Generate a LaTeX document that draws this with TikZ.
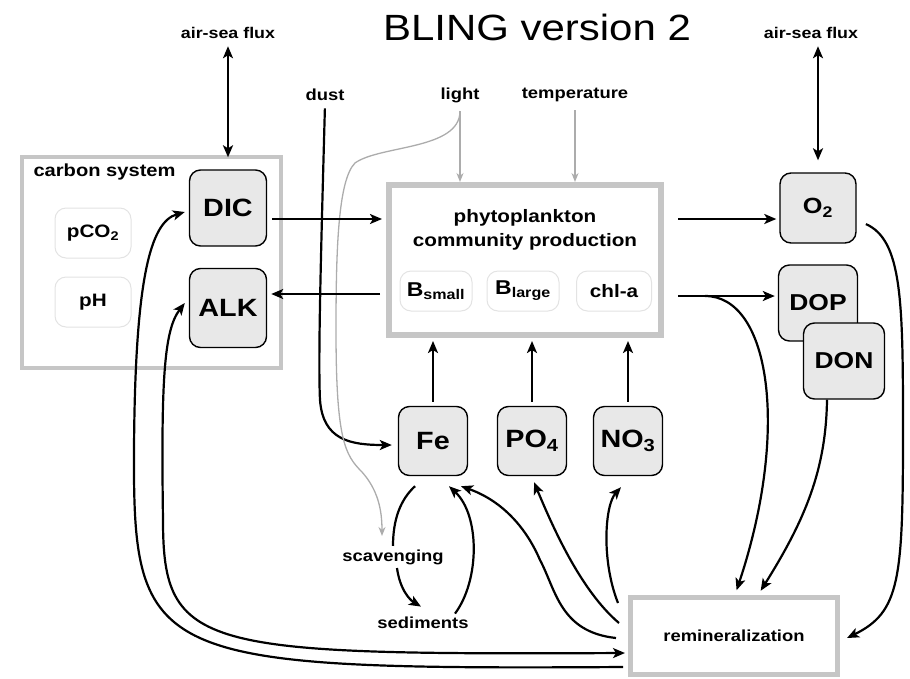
\documentclass[tikz,border=0pt]{standalone}
\usepackage{fontspec}
\setmainfont{Liberation Sans}[FakeStretch=1.15]
\usetikzlibrary{arrows.meta}
\newcommand{\setfs}[1]{\fontsize{#1}{#1}\selectfont}

\tikzset{
  >={Stealth[length=12pt,width=10pt,inset=3pt]},
  pool/.style={draw, line width=1.4pt, fill=gray!18, rounded corners=11pt, inner sep=0pt, font=\bfseries\setfs{25}},
  tag/.style={draw=gray!22, line width=1pt, fill=white, rounded corners=11pt, inner sep=0pt, font=\bfseries\setfs{18}},
  panel/.style={draw=gray!45, inner sep=0pt},
  lbl/.style={font=\bfseries\setfs{16}},
  flow/.style={->, line width=2.2pt},
  cue/.style={-{Stealth[length=9pt,width=7pt]}, draw=gray!65, line width=1.3pt},
}

\begin{document}
\begin{tikzpicture}[x=1pt, y=-1pt]
        \useasboundingbox (0,0) rectangle (910,678);

        \node (title) at (537,27) {\setfs{36.5}BLING version 2};
        \node[lbl, font=\bfseries\setfs{15.5}] (fluxL) at (228,33) {air-sea flux};
        \node[lbl, font=\bfseries\setfs{15.5}] (fluxR) at (811,33) {air-sea flux};
        \node[lbl] (dust) at (325,95) {dust};
        \node[lbl] (light) at (460,95) {light};
        \node[lbl] (temp) at (575,95) {temperature};

        % carbon system
        \node[panel, line width=3.5pt, minimum width=259pt, minimum height=211pt] (carbon) at (151.5,262.5) {};
        \node[lbl, font=\bfseries\setfs{17.5}, anchor=west] (carbontxt) at (30,172) {carbon system};
        \node[tag, minimum width=76pt, minimum height=50pt] (pCO2) at (93,233) {pCO\textsubscript{2}};
        \node[tag, minimum width=76pt, minimum height=50pt] (pH) at (93,302) {pH};
        \node[pool, minimum width=77pt, minimum height=76pt] (DIC) at (228,208) {DIC};
        \node[pool, minimum width=77pt, minimum height=79pt] (ALK) at (228,308) {ALK};

        % phytoplankton
        \node[panel, line width=6pt, minimum width=272pt, minimum height=150pt] (phyto) at (525,260) {};
        \node[align=center, font=\bfseries\setfs{18}] (phytotxt) at (525,230) {phytoplankton\\[6pt]community production};
        \node[tag, minimum width=72pt, minimum height=40pt, font=\bfseries\setfs{20}] (Bsmall) at (436,291) {B\textsubscript{small}};
        \node[tag, minimum width=72pt, minimum height=40pt, font=\bfseries\setfs{20}] (Blarge) at (523,291) {B\textsubscript{large}};
        \node[tag, minimum width=75pt, minimum height=40pt] (chla) at (614,291) {chl-a};

        \node[pool, minimum width=76pt, minimum height=70pt, font=\bfseries\setfs{22}] (O2) at (818,208) {O\textsubscript{2}};
        \node[pool, minimum width=79pt, minimum height=76pt, font=\bfseries\setfs{23}] (DOP) at (818,303) {DOP};
        \node[pool, minimum width=81pt, minimum height=76pt, font=\bfseries\setfs{23}] (DON) at (844,361) {DON};

        \node[pool, minimum width=69pt, minimum height=69pt] (Fe) at (433,441) {Fe};
        \node[pool, minimum width=69pt, minimum height=69pt] (PO4) at (532,441) {PO\textsubscript{4}};
        \node[pool, minimum width=69pt, minimum height=69pt] (NO3) at (628,441) {NO\textsubscript{3}};

        \node[lbl] (scav) at (393,557) {scavenging};
        \node[lbl] (sed) at (423,623) {sediments};
        \node[panel, line width=5pt, minimum width=207pt, minimum height=77pt, font=\bfseries\setfs{16}] (remin) at (734,636) {remineralization};

        % drivers
        \draw[flow, <->, shorten <=4pt] (fluxL.south) -- ([yshift=12pt]DIC.north);
        \draw[flow, <->, shorten <=4pt] (fluxR.south -| O2.north) -- ([yshift=12pt]O2.north);
        \draw[flow, shorten <=4pt] (dust.south) .. controls (321,250) and (318,360) .. (320,400) .. controls (323,440) and (350,445) .. ([xshift=-6pt,yshift=-4pt]Fe.west);
        \draw[cue, shorten <=5pt] (light.south) -- (light.south |- phyto.north);
        \draw[cue, shorten <=5pt] (temp.south) -- (temp.south |- phyto.north);
        \draw[cue, shorten <=5pt, shorten >=10pt] (light.south) .. controls (460,150) and (380,145) .. (355,163) .. controls (338,180) and (336,250) .. (336,330) .. controls (336,440) and (345,455) .. (362,472) .. controls (378,490) and (382,510) .. ([xshift=-11pt]scav.north);

        % production
        \draw[flow, shorten <=5pt, shorten >=4pt] ([yshift=-11pt]DIC.east) -- ([yshift=-11pt]DIC.east -| phyto.west);
        \draw[flow, shorten <=6pt, shorten >=4pt] ([yshift=14pt]ALK.east -| phyto.west) -- ([yshift=14pt]ALK.east);
        \draw[flow, shorten <=14pt, shorten >=3pt] ([yshift=-11pt]O2.west -| phyto.east) -- ([yshift=-11pt]O2.west);
        \draw[flow, shorten <=14pt, shorten >=3pt] ([yshift=7pt]DOP.west -| phyto.east) -- ([yshift=7pt]DOP.west);
        \draw[flow, shorten <=4pt, shorten >=3pt] (Fe.north) -- (Fe.north |- phyto.south);
        \draw[flow, shorten <=4pt, shorten >=3pt] (PO4.north) -- (PO4.north |- phyto.south);
        \draw[flow, shorten <=4pt, shorten >=3pt] (NO3.north) -- (NO3.north |- phyto.south);

        % remineralization
        \coordinate (fork) at (705,296);
        \draw[flow, shorten >=5pt] (fork) .. controls (770,296) and (790,430) .. ([xshift=1pt]remin.north);
        \draw[flow, shorten >=5pt] ([xshift=-17pt]DON.south) .. controls (826,470) and (805,520) .. ([xshift=24pt]remin.north);
        \draw[flow, shorten <=10pt] ([yshift=-12pt]O2.east) .. controls (902,240) and (903,300) .. (903,430) .. controls (903,580) and (900,612) .. ([xshift=7pt,yshift=-2pt]remin.east);
        \draw[flow] ([xshift=-10pt,yshift=33pt]remin.west) .. controls (601,560) and (605,505) .. ([xshift=-7pt,yshift=-11pt]NO3.south);
        \draw[flow] ([xshift=-9pt,yshift=13pt]remin.west) .. controls (580,590) and (552,525) .. ([xshift=2pt,yshift=-6pt]PO4.south);
        \draw[flow] ([xshift=-12pt,yshift=-2pt]remin.west) .. controls (560,632) and (556,590) .. (540,560) .. controls (525,525) and (500,500) .. ([xshift=28pt,yshift=-10pt]Fe.south);

        % iron cycle
        \draw[line width=2.2pt] ([xshift=-18pt,yshift=-10pt]Fe.south) .. controls (400,500) and (393,520) .. (scav.north);
        \draw[flow] ([xshift=4pt]scav.south) .. controls (400,590) and (410,600) .. ([xshift=-2pt,yshift=7pt]sed.north);
        \draw[flow] ([xshift=32pt]sed.north) .. controls (480,580) and (480,515) .. ([xshift=16pt,yshift=-10pt]Fe.south);

        % back to the carbon system
        \draw[flow] ([xshift=-5pt,yshift=-31pt]remin.west) .. controls (150,670) and (133,660) .. (134,450) .. controls (135,280) and (150,222) .. ([xshift=-4pt,yshift=-4pt]DIC.west);
        \draw[flow, <->] ([xshift=-3pt,yshift=-17pt]remin.west) .. controls (200,655) and (163,650) .. (163,520) .. controls (161,380) and (164,330) .. ([xshift=-4pt,yshift=5pt]ALK.west);

      \end{tikzpicture}
\end{document}
